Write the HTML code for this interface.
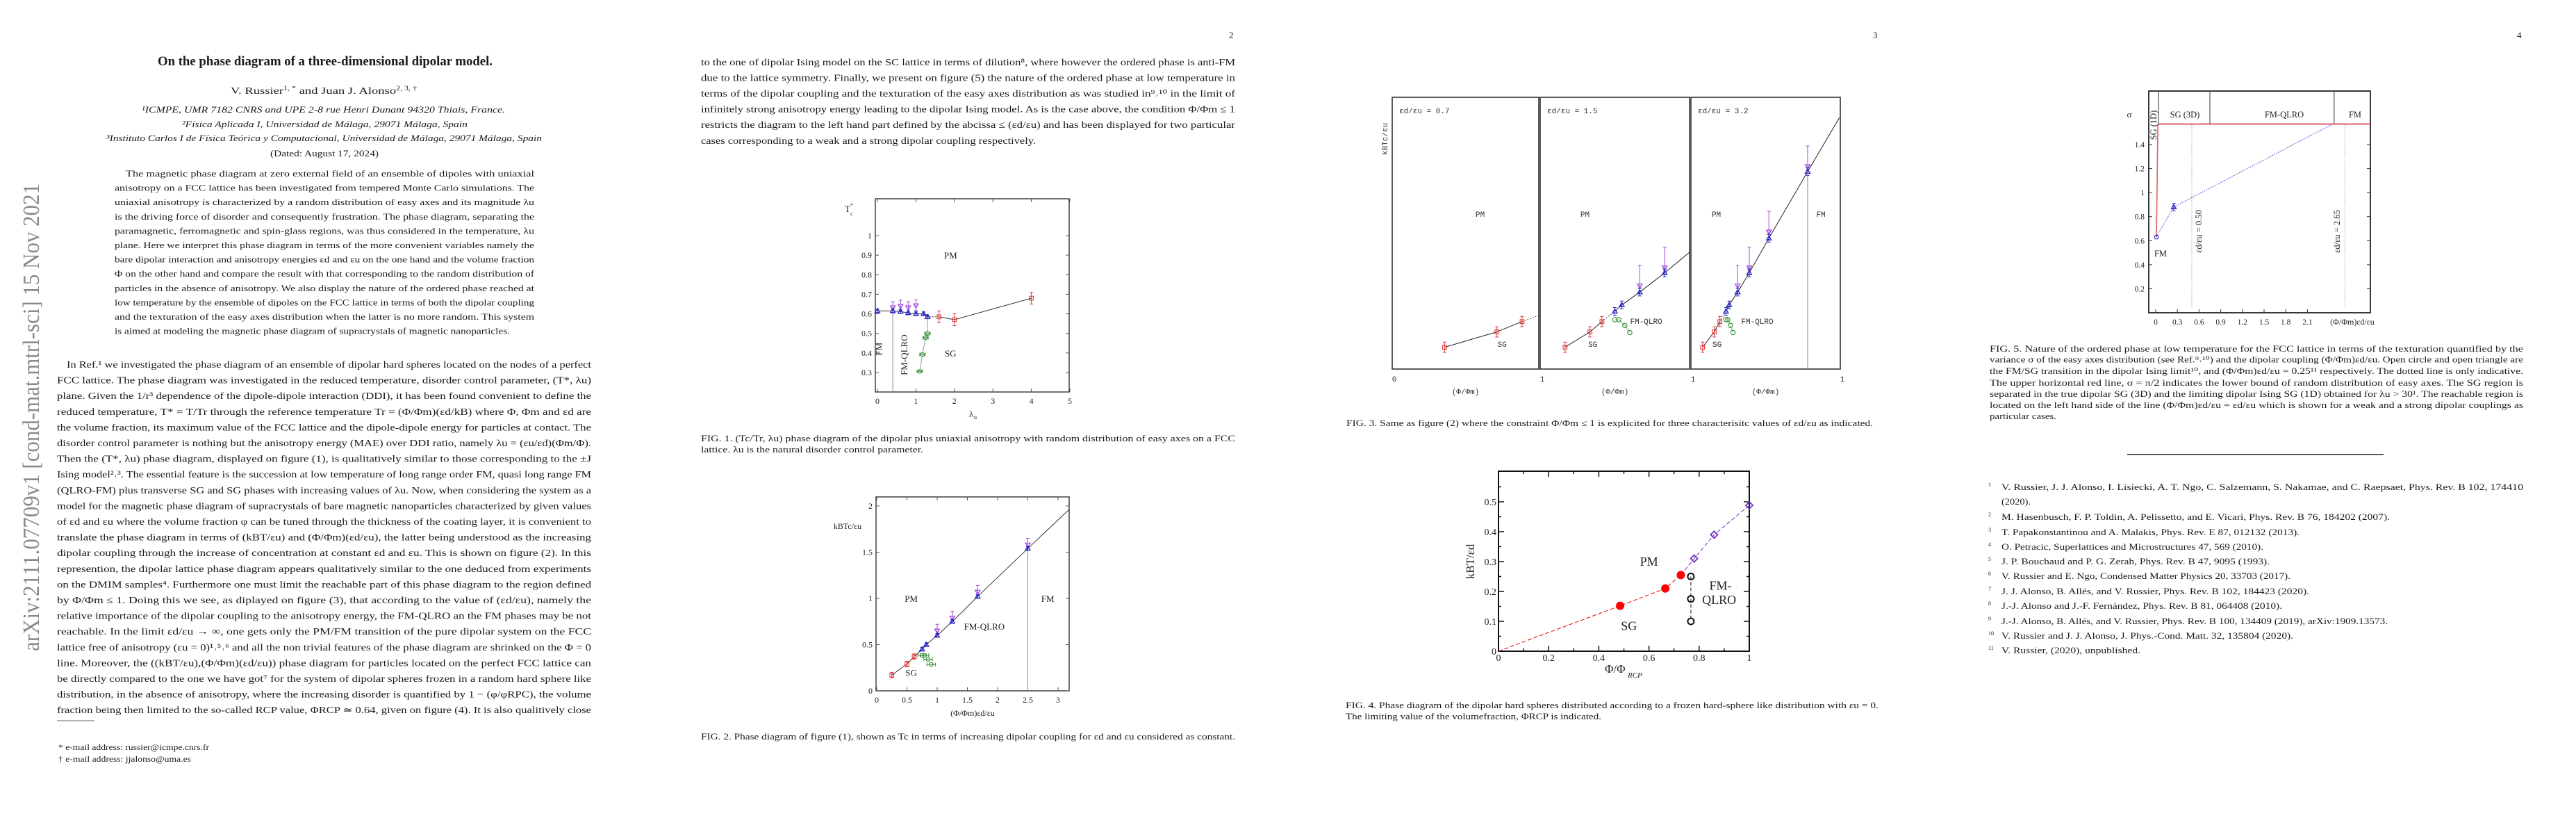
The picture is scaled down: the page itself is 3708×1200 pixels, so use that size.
<!DOCTYPE html>
<html><head><meta charset="utf-8"><title>On the phase diagram of a three-dimensional dipolar model</title>
<style>
html,body{margin:0;padding:0;background:#fff;}
svg{display:block;}
.tx{font-family:"Liberation Serif",serif;fill:#1a1a1a;}
.b{font-size:14px;}
.ab{font-size:13px;}
.cap{font-size:12.5px;}
.rf{font-size:13px;}
.ch{font-family:"Liberation Serif",serif;fill:#222;}
.mono{font-family:"Liberation Mono",monospace;fill:#333;}
</style></head>
<body>
<svg id="chart" xmlns="http://www.w3.org/2000/svg" width="3708" height="1200" viewBox="0 0 3708 1200">
<rect x="0" y="0" width="3708" height="1200" fill="#fff"/>

<!-- ===== PAGE 1 ===== -->
<g class="tx">
<text transform="translate(56,937) rotate(-90)" font-family="Liberation Serif,serif" font-size="34" fill="#8a8a8a" textLength="673" lengthAdjust="spacingAndGlyphs">arXiv:2111.07709v1  [cond-mat.mtrl-sci]  15 Nov 2021</text>
<text x="227" y="94" font-size="19" font-weight="bold" textLength="482" lengthAdjust="spacingAndGlyphs">On the phase diagram of a three-dimensional dipolar model.</text>
<text x="332" y="135" font-size="14" textLength="268" lengthAdjust="spacingAndGlyphs">V. Russier<tspan font-size="9" dy="-5">1, *</tspan><tspan dy="5"> and Juan J. Alonso</tspan><tspan font-size="9" dy="-5">2, 3, †</tspan></text>
<text x="204" y="162" font-size="13" font-style="italic" textLength="523" lengthAdjust="spacingAndGlyphs">¹ICMPE, UMR 7182 CNRS and UPE 2-8 rue Henri Dunant 94320 Thiais, France.</text>
<text x="262" y="183" font-size="13" font-style="italic" textLength="411" lengthAdjust="spacingAndGlyphs">²Física Aplicada I, Universidad de Málaga, 29071 Málaga, Spain</text>
<text x="153" y="203" font-size="13" font-style="italic" textLength="627" lengthAdjust="spacingAndGlyphs">³Instituto Carlos I de Física Teórica y Computacional, Universidad de Málaga, 29071 Málaga, Spain</text>
<text x="389" y="225" font-size="13" textLength="156" lengthAdjust="spacingAndGlyphs">(Dated: August 17, 2024)</text>
<g class="ab">
<text x="181" y="254" textLength="588" lengthAdjust="spacingAndGlyphs">The magnetic phase diagram at zero external field of an ensemble of dipoles with uniaxial</text>
<text x="165" y="274.6" textLength="604" lengthAdjust="spacingAndGlyphs">anisotropy on a FCC lattice has been investigated from tempered Monte Carlo simulations. The</text>
<text x="165" y="295.2" textLength="604" lengthAdjust="spacingAndGlyphs">uniaxial anisotropy is characterized by a random distribution of easy axes and its magnitude λu</text>
<text x="165" y="315.8" textLength="604" lengthAdjust="spacingAndGlyphs">is the driving force of disorder and consequently frustration. The phase diagram, separating the</text>
<text x="165" y="336.4" textLength="604" lengthAdjust="spacingAndGlyphs">paramagnetic, ferromagnetic and spin-glass regions, was thus considered in the temperature, λu</text>
<text x="165" y="357" textLength="604" lengthAdjust="spacingAndGlyphs">plane. Here we interpret this phase diagram in terms of the more convenient variables namely the</text>
<text x="165" y="377.6" textLength="604" lengthAdjust="spacingAndGlyphs">bare dipolar interaction and anisotropy energies εd and εu on the one hand and the volume fraction</text>
<text x="165" y="398.2" textLength="604" lengthAdjust="spacingAndGlyphs">Φ on the other hand and compare the result with that corresponding to the random distribution of</text>
<text x="165" y="418.8" textLength="604" lengthAdjust="spacingAndGlyphs">particles in the absence of anisotropy. We also display the nature of the ordered phase reached at</text>
<text x="165" y="439.4" textLength="604" lengthAdjust="spacingAndGlyphs">low temperature by the ensemble of dipoles on the FCC lattice in terms of both the dipolar coupling</text>
<text x="165" y="460" textLength="604" lengthAdjust="spacingAndGlyphs">and the texturation of the easy axes distribution when the latter is no more random. This system</text>
<text x="165" y="480.6" textLength="569" lengthAdjust="spacingAndGlyphs">is aimed at modeling the magnetic phase diagram of supracrystals of magnetic nanoparticles.</text>
</g>
<g class="b">
<text x="96" y="529" textLength="755" lengthAdjust="spacingAndGlyphs">In Ref.¹ we investigated the phase diagram of an ensemble of dipolar hard spheres located on the nodes of a perfect</text>
<text x="82" y="551.6" textLength="769" lengthAdjust="spacingAndGlyphs">FCC lattice. The phase diagram was investigated in the reduced temperature, disorder control parameter, (T*, λu)</text>
<text x="82" y="574.2" textLength="769" lengthAdjust="spacingAndGlyphs">plane. Given the 1/r³ dependence of the dipole-dipole interaction (DDI), it has been found convenient to define the</text>
<text x="82" y="596.8" textLength="769" lengthAdjust="spacingAndGlyphs">reduced temperature, T* = T/Tr through the reference temperature Tr = (Φ/Φm)(εd/kB) where Φ, Φm and εd are</text>
<text x="82" y="619.4" textLength="769" lengthAdjust="spacingAndGlyphs">the volume fraction, its maximum value of the FCC lattice and the dipole-dipole energy for particles at contact. The</text>
<text x="82" y="642" textLength="769" lengthAdjust="spacingAndGlyphs">disorder control parameter is nothing but the anisotropy energy (MAE) over DDI ratio, namely λu = (εu/εd)(Φm/Φ).</text>
<text x="82" y="664.6" textLength="769" lengthAdjust="spacingAndGlyphs">Then the (T*, λu) phase diagram, displayed on figure (1), is qualitatively similar to those corresponding to the ±J</text>
<text x="82" y="687.2" textLength="769" lengthAdjust="spacingAndGlyphs">Ising model²˒³. The essential feature is the succession at low temperature of long range order FM, quasi long range FM</text>
<text x="82" y="709.8" textLength="769" lengthAdjust="spacingAndGlyphs">(QLRO-FM) plus transverse SG and SG phases with increasing values of λu. Now, when considering the system as a</text>
<text x="82" y="732.4" textLength="769" lengthAdjust="spacingAndGlyphs">model for the magnetic phase diagram of supracrystals of bare magnetic nanoparticles characterized by given values</text>
<text x="82" y="755" textLength="769" lengthAdjust="spacingAndGlyphs">of εd and εu where the volume fraction φ can be tuned through the thickness of the coating layer, it is convenient to</text>
<text x="82" y="777.6" textLength="769" lengthAdjust="spacingAndGlyphs">translate the phase diagram in terms of (kBT/εu) and (Φ/Φm)(εd/εu), the latter being understood as the increasing</text>
<text x="82" y="800.2" textLength="769" lengthAdjust="spacingAndGlyphs">dipolar coupling through the increase of concentration at constant εd and εu. This is shown on figure (2). In this</text>
<text x="82" y="822.8" textLength="769" lengthAdjust="spacingAndGlyphs">represention, the dipolar lattice phase diagram appears qualitatively similar to the one deduced from experiments</text>
<text x="82" y="845.4" textLength="769" lengthAdjust="spacingAndGlyphs">on the DMIM samples⁴. Furthermore one must limit the reachable part of this phase diagram to the region defined</text>
<text x="82" y="868" textLength="769" lengthAdjust="spacingAndGlyphs">by Φ/Φm ≤ 1. Doing this we see, as diplayed on figure (3), that according to the value of (εd/εu), namely the</text>
<text x="82" y="890.6" textLength="769" lengthAdjust="spacingAndGlyphs">relative importance of the dipolar coupling to the anisotropy energy, the FM-QLRO an the FM phases may be not</text>
<text x="82" y="913.2" textLength="769" lengthAdjust="spacingAndGlyphs">reachable. In the limit εd/εu → ∞, one gets only the PM/FM transition of the pure dipolar system on the FCC</text>
<text x="82" y="935.8" textLength="769" lengthAdjust="spacingAndGlyphs">lattice free of anisotropy (εu = 0)¹˒⁵˒⁶ and all the non trivial features of the phase diagram are shrinked on the Φ = 0</text>
<text x="82" y="958.4" textLength="769" lengthAdjust="spacingAndGlyphs">line. Moreover, the ((kBT/εu),(Φ/Φm)(εd/εu)) phase diagram for particles located on the perfect FCC lattice can</text>
<text x="82" y="981" textLength="769" lengthAdjust="spacingAndGlyphs">be directly compared to the one we have got⁷ for the system of dipolar spheres frozen in a random hard sphere like</text>
<text x="82" y="1003.6" textLength="769" lengthAdjust="spacingAndGlyphs">distribution, in the absence of anisotropy, where the increasing disorder is quantified by 1 − (φ/φRPC), the volume</text>
<text x="82" y="1026.2" textLength="769" lengthAdjust="spacingAndGlyphs">fraction being then limited to the so-called RCP value, ΦRCP ≃ 0.64, given on figure (4). It is also qualitively close</text>
</g>
<line x1="82" y1="1037" x2="136" y2="1037" stroke="#333" stroke-width="0.8"/>
<text x="84" y="1079" font-size="11.5" textLength="217" lengthAdjust="spacingAndGlyphs">* e-mail address: russier@icmpe.cnrs.fr</text>
<text x="84" y="1096" font-size="11.5" textLength="191" lengthAdjust="spacingAndGlyphs">† e-mail address: jjalonso@uma.es</text>
</g>

<!-- ===== PAGE 2 ===== -->
<g class="tx">
<text x="1769" y="55" font-size="13">2</text>
<g class="b">
<text x="1009" y="94" textLength="769" lengthAdjust="spacingAndGlyphs">to the one of dipolar Ising model on the SC lattice in terms of dilution⁸, where however the ordered phase is anti-FM</text>
<text x="1009" y="116.5" textLength="769" lengthAdjust="spacingAndGlyphs">due to the lattice symmetry. Finally, we present on figure (5) the nature of the ordered phase at low temperature in</text>
<text x="1009" y="139" textLength="769" lengthAdjust="spacingAndGlyphs">terms of the dipolar coupling and the texturation of the easy axes distribution as was studied in⁹˒¹⁰ in the limit of</text>
<text x="1009" y="161.5" textLength="769" lengthAdjust="spacingAndGlyphs">infinitely strong anisotropy energy leading to the dipolar Ising model. As is the case above, the condition Φ/Φm ≤ 1</text>
<text x="1009" y="184" textLength="769" lengthAdjust="spacingAndGlyphs">restricts the diagram to the left hand part defined by the abcissa ≤ (εd/εu) and has been displayed for two particular</text>
<text x="1009" y="207" textLength="482" lengthAdjust="spacingAndGlyphs">cases corresponding to a weak and a strong dipolar coupling respectively.</text>
</g>
<g class="cap">
<text x="1009" y="635" textLength="769" lengthAdjust="spacingAndGlyphs">FIG. 1.   (Tc/Tr, λu) phase diagram of the dipolar plus uniaxial anisotropy with random distribution of easy axes on a FCC</text>
<text x="1009" y="651" textLength="320" lengthAdjust="spacingAndGlyphs">lattice. λu is the natural disorder control parameter.</text>
</g>
<text class="cap" x="1009" y="1064" textLength="769" lengthAdjust="spacingAndGlyphs">FIG. 2.   Phase diagram of figure (1), shown as Tc in terms of increasing dipolar coupling for εd and εu considered as constant.</text>
</g>

<!-- ===== PAGE 3 ===== -->
<g class="tx">
<text x="2696" y="55" font-size="13">3</text>
<text class="cap" x="1938" y="613" textLength="758" lengthAdjust="spacingAndGlyphs">FIG. 3.   Same as figure (2) where the constraint Φ/Φm ≤ 1 is explicited for three characterisitc values of εd/εu as indicated.</text>
<g class="cap">
<text x="1937" y="1019" textLength="767" lengthAdjust="spacingAndGlyphs">FIG. 4.   Phase diagram of the dipolar hard spheres distributed according to a frozen hard-sphere like distribution with εu = 0.</text>
<text x="1937" y="1035" textLength="368" lengthAdjust="spacingAndGlyphs">The limiting value of the volumefraction, ΦRCP is indicated.</text>
</g>
</g>

<!-- ===== PAGE 4 ===== -->
<g class="tx">
<text x="3623" y="55" font-size="13">4</text>
<g class="cap">
<text x="2864" y="506" textLength="768" lengthAdjust="spacingAndGlyphs">FIG. 5.   Nature of the ordered phase at low temperature for the FCC lattice in terms of the texturation quantified by the</text>
<text x="2864" y="521.5" textLength="768" lengthAdjust="spacingAndGlyphs">variance σ of the easy axes distribution (see Ref.⁹˒¹⁰) and the dipolar coupling (Φ/Φm)εd/εu. Open circle and open triangle are</text>
<text x="2864" y="538" textLength="768" lengthAdjust="spacingAndGlyphs">the FM/SG transition in the dipolar Ising limit¹⁰, and (Φ/Φm)εd/εu = 0.25¹¹ respectively. The dotted line is only indicative.</text>
<text x="2864" y="555" textLength="768" lengthAdjust="spacingAndGlyphs">The upper horizontal red line, σ = π/2 indicates the lower bound of random distribution of easy axes. The SG region is</text>
<text x="2864" y="571" textLength="768" lengthAdjust="spacingAndGlyphs">separated in the true dipolar SG (3D) and the limiting dipolar Ising SG (1D) obtained for λu &gt; 30¹. The reachable region is</text>
<text x="2864" y="587" textLength="768" lengthAdjust="spacingAndGlyphs">located on the left hand side of the line (Φ/Φm)εd/εu = εd/εu which is shown for a weak and a strong dipolar couplings as</text>
<text x="2864" y="603" textLength="96" lengthAdjust="spacingAndGlyphs">particular cases.</text>
</g>
<line x1="3062" y1="654" x2="3431" y2="654" stroke="#222" stroke-width="1.4"/>
<g class="rf">
<text x="2862" y="700" font-size="8">1</text><text x="2881" y="705" textLength="751" lengthAdjust="spacingAndGlyphs">V. Russier, J. J. Alonso, I. Lisiecki, A. T. Ngo, C. Salzemann, S. Nakamae,  and C. Raepsaet, Phys. Rev. B 102, 174410</text>
<text x="2881" y="726" textLength="42" lengthAdjust="spacingAndGlyphs">(2020).</text>
<text x="2862" y="743" font-size="8">2</text><text x="2881" y="748" textLength="559" lengthAdjust="spacingAndGlyphs">M. Hasenbusch, F. P. Toldin, A. Pelissetto,  and E. Vicari, Phys. Rev. B 76, 184202 (2007).</text>
<text x="2862" y="765" font-size="8">3</text><text x="2881" y="770" textLength="429" lengthAdjust="spacingAndGlyphs">T. Papakonstantinou and A. Malakis, Phys. Rev. E 87, 012132 (2013).</text>
<text x="2862" y="786" font-size="8">4</text><text x="2881" y="791" textLength="377" lengthAdjust="spacingAndGlyphs">O. Petracic, Superlattices and Microstructures 47, 569 (2010).</text>
<text x="2862" y="807" font-size="8">5</text><text x="2881" y="812" textLength="386" lengthAdjust="spacingAndGlyphs">J. P. Bouchaud and P. G. Zerah, Phys. Rev. B 47, 9095 (1993).</text>
<text x="2862" y="828" font-size="8">6</text><text x="2881" y="833" textLength="416" lengthAdjust="spacingAndGlyphs">V. Russier and E. Ngo, Condensed Matter Physics 20, 33703 (2017).</text>
<text x="2862" y="850" font-size="8">7</text><text x="2881" y="855" textLength="443" lengthAdjust="spacingAndGlyphs">J. J. Alonso, B. Allés,  and V. Russier, Phys. Rev. B 102, 184423 (2020).</text>
<text x="2862" y="871" font-size="8">8</text><text x="2881" y="876" textLength="404" lengthAdjust="spacingAndGlyphs">J.-J. Alonso and J.-F. Fernández, Phys. Rev. B 81, 064408 (2010).</text>
<text x="2862" y="893" font-size="8">9</text><text x="2881" y="898" textLength="556" lengthAdjust="spacingAndGlyphs">J.-J. Alonso, B. Allés,  and V. Russier, Phys. Rev. B 100, 134409 (2019), arXiv:1909.13573.</text>
<text x="2862" y="914" font-size="8">10</text><text x="2881" y="919" textLength="420" lengthAdjust="spacingAndGlyphs">V. Russier and J. J. Alonso, J. Phys.-Cond. Matt. 32, 135804 (2020).</text>
<text x="2862" y="935" font-size="8">11</text><text x="2881" y="940" textLength="200" lengthAdjust="spacingAndGlyphs">V. Russier,  (2020), unpublished.</text>
</g>
</g>

<g id="charts"></g>
</svg>

<script>
// ---------- DATA ----------
// Fig 1: (T*c, lambda_u)
const f1XTicks = [0, 1, 2, 3, 4, 5];
const f1YTicks = [0.3, 0.4, 0.5, 0.6, 0.7, 0.8, 0.9, 1];
const f1BlueL = [0, 0.4, 0.6, 0.8, 1.0, 1.2, 1.3];
const f1BlueT = [0.615, 0.615, 0.612, 0.605, 0.600, 0.600, 0.585];
const f1PurpL = [0.4, 0.6, 0.8, 1.0];
const f1PurpT = [0.632, 0.640, 0.632, 0.642];
const f1RedL = [1.6, 2, 4];
const f1RedT = [0.585, 0.570, 0.680];
const f1GreenL = [1.3, 1.25, 1.17, 1.1];
const f1GreenT = [0.500, 0.478, 0.392, 0.306];
// Fig 2: kBTc/eu vs (Phi/Phim) ed/eu
const f2XTicks = [0, 0.5, 1, 1.5, 2, 2.5, 3];
const f2YTicks = [0, 0.5, 1, 1.5, 2];
const f2RedX = [0.25, 0.5, 0.62];
const f2RedY = [0.17, 0.29, 0.37];
const f2BlueX = [0.75, 0.82, 1.0, 1.25, 1.67, 2.5];
const f2BlueY = [0.45, 0.50, 0.60, 0.75, 1.02, 1.54];
const f2PurpX = [1.0, 1.25, 1.67, 2.5];
const f2PurpY = [0.65, 0.79, 1.07, 1.58];
const f2GreenX = [0.75, 0.79, 0.85, 0.90];
const f2GreenY = [0.385, 0.385, 0.34, 0.285];
const f2LineEnd = [3.18, 1.96];
// Fig 3: three ed/eu ratios
const f3Ratios = [0.7, 1.5, 3.2];
// Fig 4
const f4XTicks = [0, 0.2, 0.4, 0.6, 0.8, 1];
const f4YTicks = [0, 0.1, 0.2, 0.3, 0.4, 0.5];
const f4RedX = [0.485, 0.665, 0.727];
const f4RedY = [0.152, 0.210, 0.255];
const f4PurpX = [0.78, 0.86, 1.0];
const f4PurpY = [0.31, 0.39, 0.488];
const f4BlackX = [0.767, 0.767, 0.767];
const f4BlackY = [0.25, 0.175, 0.10];
// Fig 5
const f5XTicks = [0, 0.3, 0.6, 0.9, 1.2, 1.5, 1.8, 2.1];
const f5YTicks = [0.2, 0.4, 0.6, 0.8, 1, 1.2, 1.4];
const f5BlueX = [0.01, 0.25];
const f5BlueY = [0.63, 0.88];
const f5RandomSigma = 1.571;
const f5DottedEnd = [2.45, 1.571];
const f5Boundaries = [0.04, 0.75, 2.47];
const f5RatioLines = [0.5, 2.62];

// ---------- helpers ----------
const NS = 'http://www.w3.org/2000/svg';
const root = document.getElementById('charts');
function mk(tag, attrs, parent) {
  const e = document.createElementNS(NS, tag);
  for (const k in attrs) e.setAttribute(k, attrs[k]);
  (parent || root).appendChild(e);
  return e;
}
function lin(d0, d1, p0, p1) { return v => p0 + (v - d0) * (p1 - p0) / (d1 - d0); }
function grp(name) {
  const g = mk('g', {});
  
  
  return g;
}
function label(g, name, x, y, txt, attrs) {
  const t = mk('text', Object.assign({x: x, y: y, class: 'ch', 'font-size': 12}, attrs || {}), g);
  
  
  t.textContent = txt;
  return t;
}
function line(g, name, x1, y1, x2, y2, attrs) {
  const l = mk('line', Object.assign({x1: x1, y1: y1, x2: x2, y2: y2, stroke: '#222', 'stroke-width': 1}, attrs || {}), g);
  
  
  return l;
}
function poly(g, name, pts, attrs) {
  const p = mk('polyline', Object.assign({points: pts.map(q => q[0].toFixed(1) + ',' + q[1].toFixed(1)).join(' '), fill: 'none', stroke: '#222', 'stroke-width': 1}, attrs || {}), g);
  
  
  return p;
}
function marker(g, name, kind, x, y, c, s) {
  s = s || 3.5;
  let m;
  if (kind === 'up') m = mk('polygon', {points: `${x},${y - s} ${x - s},${y + s * 0.7} ${x + s},${y + s * 0.7}`, fill: 'none', stroke: c, 'stroke-width': 1.3}, g);
  else if (kind === 'down') m = mk('polygon', {points: `${x},${y + s} ${x - s},${y - s * 0.7} ${x + s},${y - s * 0.7}`, fill: 'none', stroke: c, 'stroke-width': 1.3}, g);
  else if (kind === 'sq') m = mk('rect', {x: x - s * 0.8, y: y - s * 0.8, width: s * 1.6, height: s * 1.6, fill: 'none', stroke: c, 'stroke-width': 1.1}, g);
  else if (kind === 'circ') m = mk('circle', {cx: x, cy: y, r: s * 0.8, fill: 'none', stroke: c, 'stroke-width': 1.1}, g);
  else if (kind === 'dot') m = mk('circle', {cx: x, cy: y, r: s, fill: c, stroke: c, 'stroke-width': 1}, g);
  else if (kind === 'ring') m = mk('circle', {cx: x, cy: y, r: s, fill: 'none', stroke: c, 'stroke-width': 2}, g);
  else if (kind === 'diam') m = mk('polygon', {points: `${x},${y - s} ${x + s},${y} ${x},${y + s} ${x - s},${y}`, fill: 'none', stroke: c, 'stroke-width': 1.8}, g);
  
  
  return m;
}
function errV(g, x, y1, y2, c) {
  line(g, 'error-bar', x, y1, x, y2, {stroke: c, 'stroke-width': 1});
  line(g, 'error-cap', x - 2.5, y1, x + 2.5, y1, {stroke: c, 'stroke-width': 1});
  line(g, 'error-cap', x - 2.5, y2, x + 2.5, y2, {stroke: c, 'stroke-width': 1});
}
function errH(g, y, x1, x2, c) {
  line(g, 'error-bar', x1, y, x2, y, {stroke: c, 'stroke-width': 1});
  line(g, 'error-cap', x1, y - 2.5, x1, y + 2.5, {stroke: c, 'stroke-width': 1});
  line(g, 'error-cap', x2, y - 2.5, x2, y + 2.5, {stroke: c, 'stroke-width': 1});
}
function frame(g, name, x, y, w, h, sw, c) {
  const r = mk('rect', {x: x, y: y, width: w, height: h, fill: 'none', stroke: c || '#333', 'stroke-width': sw || 1.4}, g);
  
  
  return r;
}
const RED = '#e23a3a', BLUE = '#2323c8', PURP = '#a646e0', GREEN = '#2e8b2e';

// ---------- FIG 1 ----------
(function () {
  const g = grp('fig1-chart');
  const X = lin(0, 5, 1263, 1540), Y = lin(0.3, 1, 536, 339);
  const L = 1260, R = 1539, T = 286, B = 564;
  frame(g, 'fig1-frame', L, T, R - L, B - T);
  f1YTicks.forEach(v => {
    line(g, 'fig1-y-tick', L, Y(v), L + 5, Y(v), {stroke: '#555'});
    line(g, 'fig1-y-tick', R - 5, Y(v), R, Y(v), {stroke: '#555'});
    label(g, 'fig1-y-tick-label', L - 5, Y(v) + 4, String(v), {'text-anchor': 'end'});
  });
  f1XTicks.forEach(v => {
    line(g, 'fig1-x-tick', X(v), B, X(v), B - 5, {stroke: '#555'});
    line(g, 'fig1-x-tick', X(v), T, X(v), T + 5, {stroke: '#555'});
    label(g, 'fig1-x-tick-label', X(v), B + 17, String(v), {'text-anchor': 'middle'});
  });
  label(g, 'fig1-y-axis-title', 1216, 305, 'T', {'font-size': 13});
  label(g, 'fig1-y-axis-title-sup', 1224, 298, '*', {'font-size': 8});
  label(g, 'fig1-y-axis-title-sub', 1224, 310, 'c', {'font-size': 8});
  label(g, 'fig1-x-axis-title', 1395, 600, 'λ', {'font-size': 13});
  label(g, 'fig1-x-axis-title-sub', 1402, 603, 'u', {'font-size': 8});
  // phase boundaries
  line(g, 'fig1-fm-boundary', X(0.4), B, X(0.4), Y(f1BlueT[1]), {stroke: '#888'});
  poly(g, 'fig1-qlro-boundary', [[X(1.3), Y(0.585)]].concat(f1GreenL.map((v, i) => [X(v), Y(f1GreenT[i])])), {stroke: '#999'});
  poly(g, 'fig1-blue-line', f1BlueL.map((v, i) => [X(v), Y(f1BlueT[i])]), {stroke: '#333'});
  line(g, 'fig1-dotted-link', X(f1BlueL[6]), Y(f1BlueT[6]), X(f1RedL[0]), Y(f1RedT[0]), {stroke: '#333', 'stroke-dasharray': '1.5,2'});
  poly(g, 'fig1-red-line', f1RedL.map((v, i) => [X(v), Y(f1RedT[i])]), {stroke: '#333'});
  f1PurpL.forEach((v, i) => { errV(g, X(v), Y(f1PurpT[i] + 0.03), Y(f1PurpT[i] - 0.025), PURP); marker(g, 'fig1-purple-point', 'down', X(v), Y(f1PurpT[i]), PURP); });
  f1BlueL.forEach((v, i) => { errV(g, X(v), Y(f1BlueT[i] + 0.01), Y(f1BlueT[i] - 0.01), BLUE); marker(g, 'fig1-blue-point', 'up', X(v), Y(f1BlueT[i]), BLUE); });
  f1RedL.forEach((v, i) => { errV(g, X(v), Y(f1RedT[i] + 0.03), Y(f1RedT[i] - 0.03), RED); marker(g, 'fig1-red-point', 'sq', X(v), Y(f1RedT[i]), RED); });
  f1GreenL.forEach((v, i) => { errH(g, Y(f1GreenT[i]), X(v - 0.07), X(v + 0.07), GREEN); marker(g, 'fig1-green-point', 'circ', X(v), Y(f1GreenT[i]), GREEN); });
  label(g, 'fig1-pm-label', X(1.9), Y(0.9) + 5, 'PM', {'text-anchor': 'middle', 'font-size': 13});
  label(g, 'fig1-sg-label', X(1.9), Y(0.4) + 5, 'SG', {'text-anchor': 'middle', 'font-size': 13});
  label(g, 'fig1-fm-label', 0, 0, 'FM', {'text-anchor': 'middle', 'font-size': 13, transform: `translate(${X(0.12)},${Y(0.42)}) rotate(-90)`});
  label(g, 'fig1-fmqlro-label', 0, 0, 'FM-QLRO', {'text-anchor': 'middle', 'font-size': 13, transform: `translate(${X(0.78)},${Y(0.39)}) rotate(-90)`});
})();

// ---------- FIG 2 ----------
(function () {
  const g = grp('fig2-chart');
  const X = lin(0, 3, 1262, 1523), Y = lin(0, 2, 994, 728);
  const L = 1261, R = 1539, T = 715, B = 994;
  frame(g, 'fig2-frame', L, T, R - L, B - T);
  f2YTicks.forEach(v => {
    line(g, 'fig2-y-tick', L, Y(v), L + 5, Y(v), {stroke: '#555'});
    line(g, 'fig2-y-tick', R - 5, Y(v), R, Y(v), {stroke: '#555'});
    label(g, 'fig2-y-tick-label', L - 5, Y(v) + 4, String(v), {'text-anchor': 'end'});
  });
  f2XTicks.forEach(v => {
    line(g, 'fig2-x-tick', X(v), B, X(v), B - 5, {stroke: '#555'});
    line(g, 'fig2-x-tick', X(v), T, X(v), T + 5, {stroke: '#555'});
    label(g, 'fig2-x-tick-label', X(v), B + 17, String(v), {'text-anchor': 'middle'});
  });
  label(g, 'fig2-y-axis-title', 1220, 761, 'kBTc/εu', {'text-anchor': 'middle', 'font-size': 12});
  label(g, 'fig2-x-axis-title', 1400, 1030, '(Φ/Φm)εd/εu', {'text-anchor': 'middle', 'font-size': 12});
  line(g, 'fig2-fm-boundary', X(2.5), B, X(2.5), Y(f2BlueY[5]), {stroke: '#888'});
  const pts = f2RedX.map((v, i) => [X(v), Y(f2RedY[i])]).concat(f2BlueX.map((v, i) => [X(v), Y(f2BlueY[i])]), [[X(f2LineEnd[0]), Y(f2LineEnd[1])]]);
  poly(g, 'fig2-transition-line', pts, {stroke: '#333'});
  f2GreenX.forEach((v, i) => { errH(g, Y(f2GreenY[i]), X(v - 0.07), X(v + 0.07), GREEN); marker(g, 'fig2-green-point', 'circ', X(v), Y(f2GreenY[i]), GREEN); });
  f2PurpX.forEach((v, i) => { errV(g, X(v), Y(f2PurpY[i] + 0.07), Y(f2PurpY[i] - 0.04), PURP); marker(g, 'fig2-purple-point', 'down', X(v), Y(f2PurpY[i]), PURP); });
  f2BlueX.forEach((v, i) => { errV(g, X(v), Y(f2BlueY[i] + 0.02), Y(f2BlueY[i] - 0.02), BLUE); marker(g, 'fig2-blue-point', 'up', X(v), Y(f2BlueY[i]), BLUE); });
  f2RedX.forEach((v, i) => { errV(g, X(v), Y(f2RedY[i] + 0.03), Y(f2RedY[i] - 0.03), RED); marker(g, 'fig2-red-point', 'sq', X(v), Y(f2RedY[i]), RED); });
  label(g, 'fig2-pm-label', X(0.57), Y(1.0) + 5, 'PM', {'text-anchor': 'middle', 'font-size': 13});
  label(g, 'fig2-fm-label', X(2.83), Y(1.0) + 5, 'FM', {'text-anchor': 'middle', 'font-size': 13});
  label(g, 'fig2-fmqlro-label', X(1.78), Y(0.7) + 5, 'FM-QLRO', {'text-anchor': 'middle', 'font-size': 13});
  label(g, 'fig2-sg-label', X(0.57), Y(0.2) + 5, 'SG', {'text-anchor': 'middle', 'font-size': 13});
})();

// ---------- FIG 3 ----------
(function () {
  const g = grp('fig3-chart');
  const panelL = [2004, 2217, 2434], panelR = [2215, 2432, 2649];
  const T = 140, B = 531;
  const Y = lin(0, 1, 531, 346.5);
  label(g, 'fig3-y-axis-title', 0, 0, 'kBTc/εu', {'text-anchor': 'middle', 'font-size': 11, class: 'mono', transform: 'translate(1997,200) rotate(-90)'});
  f3Ratios.forEach((r, p) => {
    const X = lin(0, 1, panelL[p], panelR[p]);
    const pg = mk('g', {}, g);
    
    
    const clip = 'clip3' + p;
    const cp = mk('clipPath', {id: clip}, pg);
    mk('rect', {x: panelL[p], y: T, width: panelR[p] - panelL[p], height: B - T}, cp);
    frame(pg, 'fig3-panel-frame', panelL[p], T, panelR[p] - panelL[p], B - T, 1.6, '#333');
    label(pg, 'fig3-x-tick-label', panelL[p] + 3, 549, p === 0 ? '0' : '1', {'text-anchor': 'middle', 'font-size': 11, class: 'mono'});
    label(pg, 'fig3-x-axis-title', (panelL[p] + panelR[p]) / 2, 567, '(Φ/Φm)', {'text-anchor': 'middle', 'font-size': 11, class: 'mono'});
    label(pg, 'fig3-ratio-annotation', panelL[p] + 10, 163, 'εd/εu = ' + r, {'font-size': 11, class: 'mono'});
    label(pg, 'fig3-pm-label', X(p === 0 ? 0.6 : (p === 1 ? 0.3 : 0.17)), 312, 'PM', {'text-anchor': 'middle', 'font-size': 11, class: 'mono'});
    const cg = mk('g', {'clip-path': `url(#${clip})`}, pg);
    const redP = f2RedX.map((v, i) => [X(v / r), Y(f2RedY[i])]).filter(q => q[0] <= panelR[p]);
    const blueP = f2BlueX.map((v, i) => [X(v / r), Y(f2BlueY[i])]).concat([[X(f2LineEnd[0] / r), Y(f2LineEnd[1])]]);
    poly(cg, 'fig3-sg-line', redP, {stroke: '#222'});
    if (p === 0) {
      const ext = [X(f2BlueX[0] / r), Y(f2BlueY[0])];
      line(cg, 'fig3-dotted-extension', redP[redP.length - 1][0], redP[redP.length - 1][1], ext[0], ext[1], {stroke: '#222', 'stroke-dasharray': '1.5,2.5'});
    } else {
      line(cg, 'fig3-dotted-link', redP[redP.length - 1][0], redP[redP.length - 1][1], blueP[0][0], blueP[0][1], {stroke: '#222', 'stroke-dasharray': '1.5,2.5'});
      poly(cg, 'fig3-fm-line', blueP, {stroke: '#222'});
      poly(cg, 'fig3-qlro-line', f2GreenX.map((v, i) => [X(v / r), Y(f2GreenY[i])]), {stroke: '#6a6', 'stroke-width': 0.8});
      f2GreenX.forEach((v, i) => marker(cg, 'fig3-green-point', 'circ', X(v / r), Y(f2GreenY[i]), GREEN, 4));
      f2PurpX.forEach((v, i) => { if (v / r <= 1) { errV(cg, X(v / r), Y(f2PurpY[i] + 0.16), Y(f2PurpY[i] - 0.02), PURP); marker(cg, 'fig3-purple-point', 'down', X(v / r), Y(f2PurpY[i]), PURP); } });
      f2BlueX.forEach((v, i) => { if (v / r <= 1) { errV(cg, X(v / r), Y(f2BlueY[i] + 0.03), Y(f2BlueY[i] - 0.03), BLUE); marker(cg, 'fig3-blue-point', 'up', X(v / r), Y(f2BlueY[i]), BLUE); } });
      label(pg, 'fig3-fmqlro-label', X((f2GreenX[0] / r)) + 22, 466, 'FM-QLRO', {'font-size': 11, class: 'mono'});
    }
    f2RedX.forEach((v, i) => { if (v / r <= 1) { errV(cg, X(v / r), Y(f2RedY[i] + 0.04), Y(f2RedY[i] - 0.04), RED); marker(cg, 'fig3-red-point', 'sq', X(v / r), Y(f2RedY[i]), RED); } });
    label(pg, 'fig3-sg-label', p === 0 ? X(0.75) : X(f2RedX[1] / r) + 4, 499, 'SG', {'text-anchor': 'middle', 'font-size': 11, class: 'mono'});
    if (p === 2) {
      line(pg, 'fig3-fm-boundary', X(2.5 / r), B, X(2.5 / r), Y(f2BlueY[5]), {stroke: '#888'});
      label(pg, 'fig3-fm-label', X(0.87), 312, 'FM', {'text-anchor': 'middle', 'font-size': 11, class: 'mono'});
      label(pg, 'fig3-x-tick-label-end', panelR[p] + 3, 549, '1', {'text-anchor': 'middle', 'font-size': 11, class: 'mono'});
    }
  });
})();

// ---------- FIG 4 ----------
(function () {
  const g = grp('fig4-chart');
  const X = lin(0, 1, 2157, 2518), Y = lin(0, 0.5, 937, 722);
  const L = 2157, R = 2518, T = 678, B = 937;
  frame(g, 'fig4-frame', L, T, R - L, B - T, 2, '#111');
  for (let v = 0.1; v < 1; v += 0.1) {
    const major = Math.abs(v * 5 - Math.round(v * 5)) < 1e-6;
    const len = major ? 8 : 4;
    line(g, 'fig4-x-tick', X(v), B, X(v), B - len, {stroke: '#111', 'stroke-width': 1.5});
    line(g, 'fig4-x-tick', X(v), T, X(v), T + len, {stroke: '#111', 'stroke-width': 1.5});
  }
  for (let v = 0.05; v < 0.6; v += 0.05) {
    const major = Math.abs(v * 10 - Math.round(v * 10)) < 1e-6;
    const len = major ? 8 : 4;
    line(g, 'fig4-y-tick', L, Y(v), L + len, Y(v), {stroke: '#111', 'stroke-width': 1.5});
    line(g, 'fig4-y-tick', R, Y(v), R - len, Y(v), {stroke: '#111', 'stroke-width': 1.5});
  }
  f4XTicks.forEach(v => label(g, 'fig4-x-tick-label', X(v), B + 14, String(v), {'text-anchor': 'middle', 'font-size': 14}));
  f4YTicks.forEach(v => label(g, 'fig4-y-tick-label', L - 3, Y(v) + 5, String(v), {'text-anchor': 'end', 'font-size': 14}));
  label(g, 'fig4-x-axis-title', 2310, 968, 'Φ/Φ', {'font-size': 17});
  label(g, 'fig4-x-axis-title-sub', 2343, 975, 'RCP', {'font-size': 11, 'font-style': 'italic'});
  label(g, 'fig4-y-axis-title', 0, 0, 'kBT/εd', {'text-anchor': 'middle', 'font-size': 17, transform: 'translate(2122,808) rotate(-90)'});
  const redPts = [[X(0), Y(0)]].concat(f4RedX.map((v, i) => [X(v), Y(f4RedY[i])]));
  poly(g, 'fig4-red-dashed-line', redPts, {stroke: '#e00', 'stroke-dasharray': '6,3'});
  const purpPts = [redPts[redPts.length - 1]].concat(f4PurpX.map((v, i) => [X(v), Y(f4PurpY[i])]));
  poly(g, 'fig4-purple-dashed-line', purpPts, {stroke: '#7030c0', 'stroke-dasharray': '6,3'});
  poly(g, 'fig4-black-dashed-line', f4BlackX.map((v, i) => [X(v), Y(f4BlackY[i])]), {stroke: '#111', 'stroke-dasharray': '5,3'});
  f4RedX.forEach((v, i) => marker(g, 'fig4-red-point', 'dot', X(v), Y(f4RedY[i]), '#f00', 5.5));
  f4PurpX.forEach((v, i) => marker(g, 'fig4-purple-point', 'diam', X(v), Y(f4PurpY[i]), '#7030c0', 5));
  f4BlackX.forEach((v, i) => marker(g, 'fig4-black-point', 'ring', X(v), Y(f4BlackY[i]), '#111', 4.5));
  label(g, 'fig4-pm-label', X(0.6), Y(0.3) + 6, 'PM', {'text-anchor': 'middle', 'font-size': 18});
  label(g, 'fig4-sg-label', X(0.52), Y(0.085) + 6, 'SG', {'text-anchor': 'middle', 'font-size': 18});
  label(g, 'fig4-fm-label', X(0.885), Y(0.22) + 6, 'FM-', {'text-anchor': 'middle', 'font-size': 18});
  label(g, 'fig4-qlro-label', X(0.88), Y(0.175) + 7, 'QLRO', {'text-anchor': 'middle', 'font-size': 18});
})();

// ---------- FIG 5 ----------
(function () {
  const g = grp('fig5-chart');
  const X = lin(0, 1, 3103, 3207), Y = lin(0, 1.4, 450, 208);
  const L = 3093, R = 3412, T = 131, B = 450;
  frame(g, 'fig5-frame', L, T, R - L, B - T, 1.8, '#222');
  f5YTicks.forEach(v => {
    line(g, 'fig5-y-tick', L, Y(v), L + 5, Y(v), {stroke: '#333'});
    line(g, 'fig5-y-tick', R - 5, Y(v), R, Y(v), {stroke: '#333'});
    label(g, 'fig5-y-tick-label', L - 6, Y(v) + 4, String(v), {'text-anchor': 'end', 'font-size': 11.5});
  });
  f5XTicks.forEach(v => {
    line(g, 'fig5-x-tick', X(v), B, X(v), B - 5, {stroke: '#333'});
    label(g, 'fig5-x-tick-label', X(v), B + 17, String(v), {'text-anchor': 'middle', 'font-size': 11.5});
  });
  label(g, 'fig5-x-axis-title', 3386, 467, '(Φ/Φm)εd/εu', {'text-anchor': 'middle', 'font-size': 12});
  label(g, 'fig5-y-axis-title', 3065, 169, 'σ', {'text-anchor': 'middle', 'font-size': 13});
  const ys = Y(f5RandomSigma);
  f5Boundaries.forEach(v => line(g, 'fig5-phase-boundary', X(v), T, X(v), ys, {stroke: '#333'}));
  f5RatioLines.forEach(v => line(g, 'fig5-ratio-line', X(v), B - 8, X(v), ys, {stroke: '#aaa', 'stroke-dasharray': '1.5,1.5'}));
  line(g, 'fig5-random-sigma-line', X(0.03), ys, R, ys, {stroke: '#e06060', 'stroke-width': 2});
  line(g, 'fig5-red-vertical', X(f5BlueX[0]), Y(f5BlueY[0]), X(0.03), ys, {stroke: '#e06060', 'stroke-width': 1.6});
  poly(g, 'fig5-blue-dotted-line', f5BlueX.map((v, i) => [X(v), Y(f5BlueY[i])]).concat([[X(f5DottedEnd[0]), Y(f5DottedEnd[1])]]), {stroke: '#4040e0', 'stroke-dasharray': '1.5,1.5'});
  marker(g, 'fig5-ising-circle', 'circ', X(f5BlueX[0]), Y(f5BlueY[0]), '#2222cc', 3.5);
  errV(g, X(f5BlueX[1]), Y(f5BlueY[1] + 0.03), Y(f5BlueY[1] - 0.03), '#2222cc');
  marker(g, 'fig5-triangle', 'up', X(f5BlueX[1]), Y(f5BlueY[1]), '#2222cc', 3.5);
  label(g, 'fig5-sg3d-label', 3145, 169, 'SG (3D)', {'text-anchor': 'middle', 'font-size': 12.5});
  label(g, 'fig5-fmqlro-label', 3288, 169, 'FM-QLRO', {'text-anchor': 'middle', 'font-size': 12.5});
  label(g, 'fig5-fm-top-label', 3390, 169, 'FM', {'text-anchor': 'middle', 'font-size': 12.5});
  label(g, 'fig5-sg1d-label', 0, 0, 'SG (1D)', {'text-anchor': 'middle', 'font-size': 12.5, transform: 'translate(3104,180) rotate(-90)'});
  label(g, 'fig5-fm-label', 3110, 369, 'FM', {'text-anchor': 'middle', 'font-size': 12.5});
  label(g, 'fig5-ratio-label-weak', 0, 0, 'εd/εu = 0.50', {'text-anchor': 'middle', 'font-size': 12.5, transform: 'translate(3169,333) rotate(-90)'});
  label(g, 'fig5-ratio-label-strong', 0, 0, 'εd/εu = 2.65', {'text-anchor': 'middle', 'font-size': 12.5, transform: 'translate(3368,333) rotate(-90)'});
})();
</script>
</body></html>
